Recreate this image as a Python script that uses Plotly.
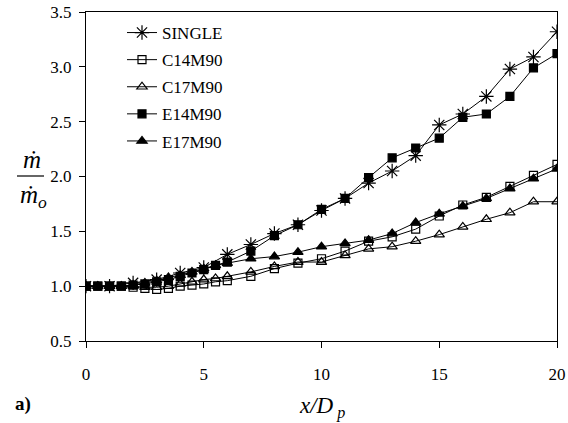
import plotly.graph_objects as go

x_single = [0, 1, 2, 3, 4, 5, 6, 7, 8, 9, 10, 11, 12, 13, 14, 15, 16, 17, 18, 19, 20]
single = [1.00, 1.00, 1.03, 1.06, 1.12, 1.17, 1.29, 1.38, 1.48, 1.56, 1.69, 1.80, 1.94, 2.05, 2.19, 2.47, 2.57, 2.73, 2.98, 3.09, 3.32]

x_cases = [0, 0.5, 1, 1.5, 2, 2.5, 3, 3.5, 4, 4.5, 5, 5.5, 6, 7, 8, 9, 10, 11, 12, 13, 14, 15, 16, 17, 18, 19, 20]
c14m90 = [1.00, 1.00, 1.00, 1.00, 0.99, 0.98, 0.97, 0.98, 1.00, 1.01, 1.02, 1.04, 1.05, 1.09, 1.16, 1.21, 1.25, 1.32, 1.41, 1.45, 1.52, 1.64, 1.74, 1.81, 1.91, 2.01, 2.11]
c17m90 = [1.00, 1.00, 1.00, 1.00, 1.00, 0.99, 0.99, 1.00, 1.02, 1.04, 1.06, 1.07, 1.09, 1.13, 1.18, 1.22, 1.22, 1.28, 1.34, 1.36, 1.41, 1.47, 1.54, 1.61, 1.67, 1.77, 1.77]
e14m90 = [1.00, 1.00, 1.00, 1.00, 1.01, 1.02, 1.04, 1.06, 1.09, 1.12, 1.15, 1.19, 1.22, 1.32, 1.46, 1.56, 1.70, 1.80, 1.99, 2.17, 2.26, 2.35, 2.54, 2.57, 2.73, 2.99, 3.12]
e17m90 = [1.00, 1.00, 1.00, 1.00, 1.01, 1.03, 1.05, 1.08, 1.10, 1.13, 1.16, 1.19, 1.21, 1.25, 1.27, 1.31, 1.36, 1.39, 1.42, 1.48, 1.58, 1.66, 1.73, 1.80, 1.89, 1.98, 2.07]

x_ticks = [0, 5, 10, 15, 20]
y_ticks = [0.5, 1.0, 1.5, 2.0, 2.5, 3.0, 3.5]

FONT = "Liberation Serif"

series = [
    ("SINGLE", x_single, single, "asterisk-open", 12),
    ("C14M90", x_cases, c14m90, "square-open", 8),
    ("C17M90", x_cases, c17m90, "triangle-up-open", 9),
    ("E14M90", x_cases, e14m90, "square", 8),
    ("E17M90", x_cases, e17m90, "triangle-up", 9),
]

fig = go.Figure()
for name, xs, ys, sym, sz in series:
    fig.add_trace(go.Scatter(
        x=xs, y=ys, name=name, legendgroup=name, mode="lines+markers",
        line=dict(color="black", width=1),
        marker=dict(symbol=sym, size=sz, color="black",
                    line=dict(color="black", width=1.2)),
    ))

W, H = 568, 423
L, R, T, B = 86, 11, 12, 82
pw, ph = W - L - R, H - T - B

def px(X):
    return (X - L) / pw

def py(Y):
    return (H - B - Y) / ph

fig.update_layout(
    width=W, height=H,
    margin=dict(l=L, r=R, t=T, b=B, autoexpand=False),
    paper_bgcolor="white", plot_bgcolor="white",
    font=dict(family=FONT, size=16, color="black"),
    showlegend=True,
    legend=dict(x=px(122), y=py(15), xanchor="left", yanchor="top",
                bgcolor="rgba(0,0,0,0)", font=dict(size=17, family=FONT),
                tracegroupgap=2, itemwidth=30),
    xaxis=dict(range=[0, 20], tickvals=x_ticks, ticktext=[str(v) for v in x_ticks],
               showline=True, linecolor="black", linewidth=1, mirror=True,
               ticks="outside", ticklen=6, tickcolor="black", showgrid=False,
               zeroline=False, ticklabelstandoff=12, automargin=False,
               tickfont=dict(size=17, family=FONT)),
    yaxis=dict(range=[0.5, 3.5], tickvals=y_ticks, ticktext=[f"{v:.1f}" for v in y_ticks],
               showline=True, linecolor="black", linewidth=1, mirror=True,
               ticks="outside", ticklen=6, tickcolor="black", showgrid=False,
               zeroline=False, ticklabelstandoff=4, automargin=False,
               tickfont=dict(size=17, family=FONT)),
)

# y-axis label as a fraction
fig.add_annotation(xref="paper", yref="paper", x=px(32), y=py(160), text="<i>ṁ</i>",
                   showarrow=False, font=dict(size=25, family=FONT), xanchor="center", yanchor="middle")
fig.add_annotation(xref="paper", yref="paper", x=px(33), y=py(197), text="<i>ṁ</i><sub><i>o</i></sub>",
                   showarrow=False, font=dict(size=25, family=FONT), xanchor="center", yanchor="middle")
fig.add_shape(type="line", xref="paper", yref="paper", x0=px(17), x1=px(44), y0=py(176), y1=py(176),
              line=dict(color="black", width=1.2))

# x-axis title
fig.add_annotation(xref="paper", yref="paper", x=px(322), y=py(407), text="<i>x/D</i><sub><i> p</i></sub>",
                   showarrow=False, font=dict(size=23, family=FONT), xanchor="center", yanchor="middle")
# panel label
fig.add_annotation(xref="paper", yref="paper", x=px(13), y=py(404), text="<b>a)</b>",
                   showarrow=False, font=dict(size=19, family=FONT), xanchor="left", yanchor="middle")

fig.write_html("out.html")
